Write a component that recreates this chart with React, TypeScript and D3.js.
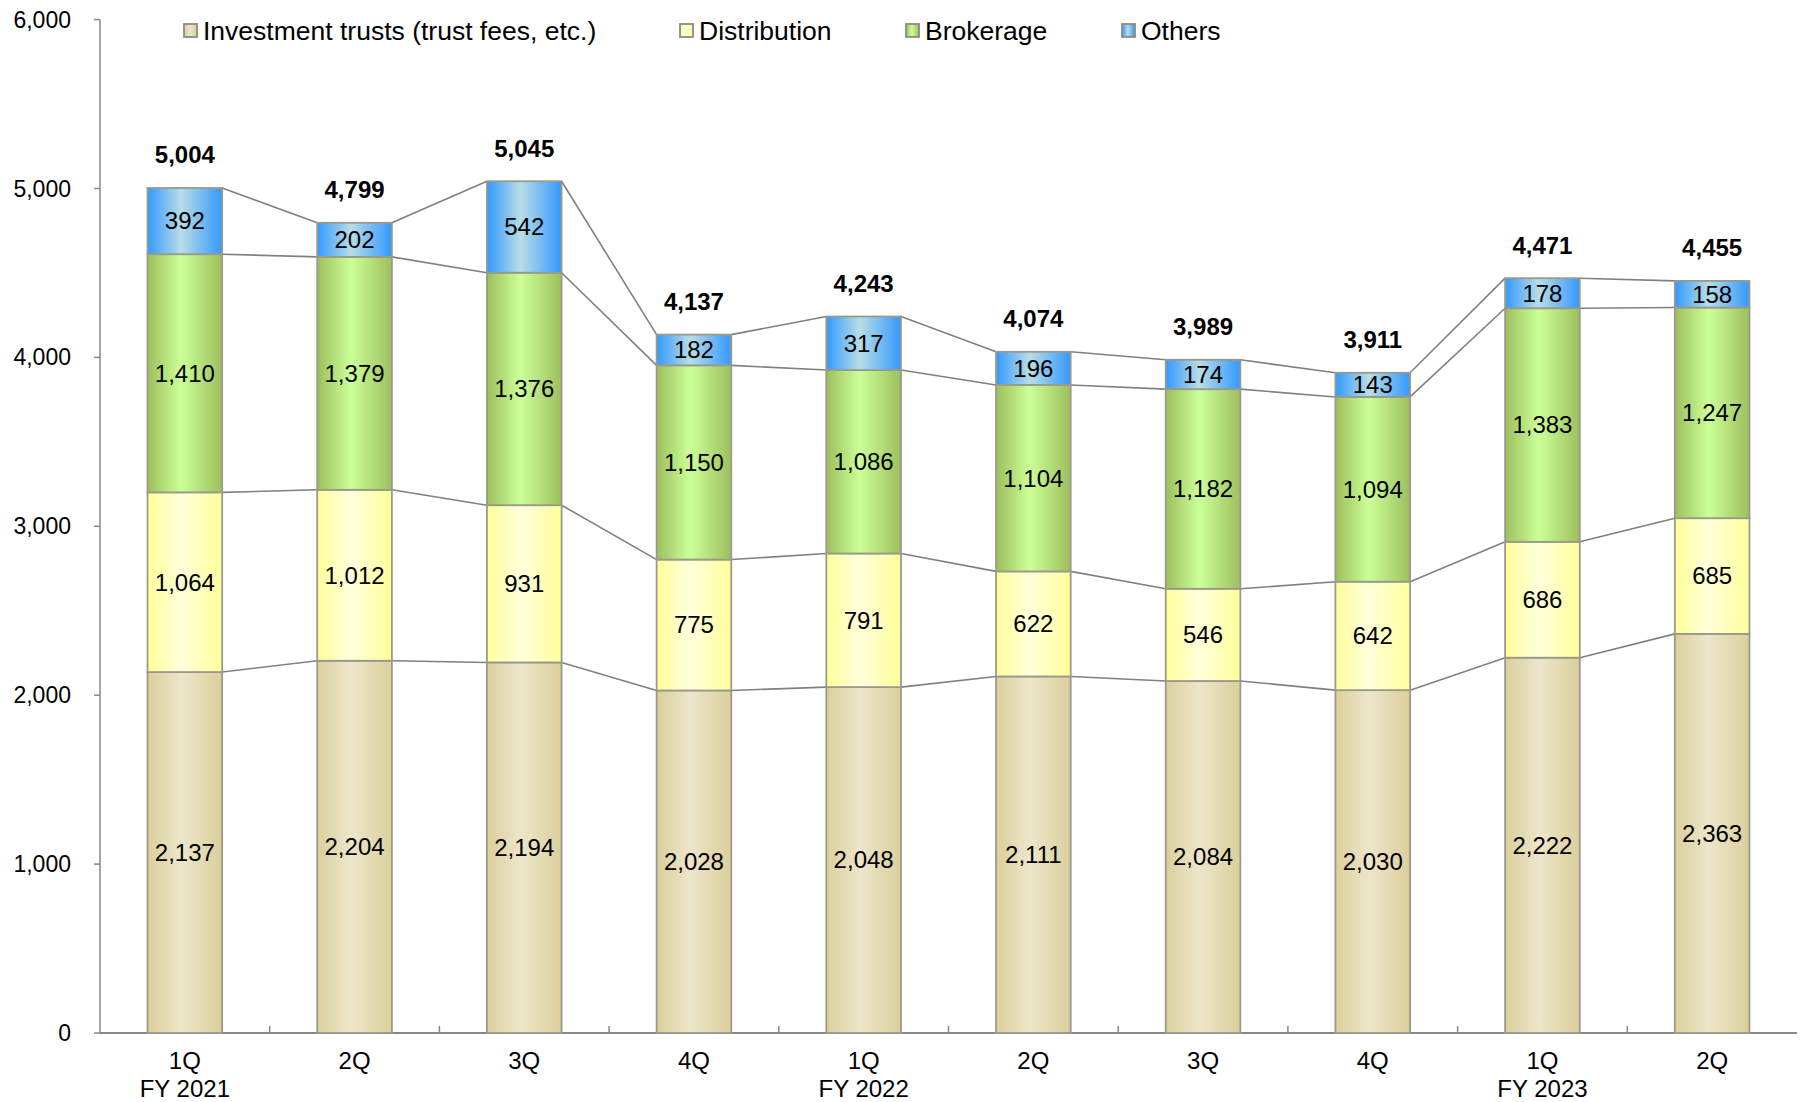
import React from 'react';
import * as d3 from 'd3';

const quarters = ['1Q', '2Q', '3Q', '4Q', '1Q', '2Q', '3Q', '4Q', '1Q', '2Q'];
const fiscalYears = ['FY 2021', '', '', '', 'FY 2022', '', '', '', 'FY 2023', ''];
const investmentTrusts = [2137, 2204, 2194, 2028, 2048, 2111, 2084, 2030, 2222, 2363];
const distribution = [1064, 1012, 931, 775, 791, 622, 546, 642, 686, 685];
const brokerage = [1410, 1379, 1376, 1150, 1086, 1104, 1182, 1094, 1383, 1247];
const others = [392, 202, 542, 182, 317, 196, 174, 143, 178, 158];
const totals = [5004, 4799, 5045, 4137, 4243, 4074, 3989, 3911, 4471, 4455];
const seriesNames = ['Investment trusts (trust fees, etc.)', 'Distribution', 'Brokerage', 'Others'];
const yTicks = [0, 1000, 2000, 3000, 4000, 5000, 6000];

const seriesData = [investmentTrusts, distribution, brokerage, others];
const gradients = [
  { id: 'g-inv', edge: '#dccf9c', mid: '#ece6ca' },
  { id: 'g-dist', edge: '#ffff99', mid: '#ffffdc' },
  { id: 'g-brok', edge: '#9dbf5c', mid: '#ccff99' },
  { id: 'g-oth', edge: '#3399ff', mid: '#b8dde6' },
];
const legendX = [184, 680, 906, 1122];

const FONT = '"Liberation Sans", Arial, Helvetica, sans-serif';
const fmt = d3.format(',');

export default function App() {
  const W = 1806, H = 1102;
  const left = 100, right = 1797, top = 19.6, bottom = 1033;
  const idx = quarters.map((_, i) => i);
  const x = d3.scaleBand<number>().domain(idx).range([left, right]).paddingInner(0.56).paddingOuter(0.28);
  const y = d3.scaleLinear().domain([0, 6000]).range([bottom, top]);
  const bw = x.bandwidth();
  const step = x.step();

  const stack = d3.stack<number>().keys(['0', '1', '2', '3']).value((i, k) => seriesData[+k][i]);
  const stacked = stack(idx);

  const stroke = '#9a9a8c';
  const lineColor = '#808080';

  return (
    <svg width={W} height={H} style={{ position: 'absolute', left: 0, top: 0, background: '#fff' }} fontFamily={FONT}>
      <defs>
        {gradients.map(g => (
          <linearGradient key={g.id} id={g.id} x1="0" x2="1" y1="0" y2="0">
            <stop offset="0" stopColor={g.edge} />
            <stop offset="0.45" stopColor={g.mid} />
            <stop offset="1" stopColor={g.edge} />
          </linearGradient>
        ))}
      </defs>

      {/* axes */}
      <line x1={left} x2={left} y1={top} y2={bottom} stroke="#888" strokeWidth={1.5} />
      <line x1={left} x2={right} y1={bottom} y2={bottom} stroke="#888" strokeWidth={2} />
      {yTicks.map(t => (
        <g key={t}>
          <line x1={left - 6} x2={left} y1={y(t)} y2={y(t)} stroke="#888" strokeWidth={1.5} />
          <text x={left - 29} y={y(t)} dy="0.35em" textAnchor="end" fontSize={23} fill="#000">{fmt(t)}</text>
        </g>
      ))}
      {idx.slice(1).map(i => (
        <line key={i} x1={x(i)! - (step - bw) / 2} x2={x(i)! - (step - bw) / 2} y1={bottom} y2={bottom - 7} stroke="#888" strokeWidth={1.5} />
      ))}
      {idx.map(i => (
        <g key={i}>
          <text x={x(i)! + bw / 2} y={1061} dy="0.35em" textAnchor="middle" fontSize={24} fill="#000">{quarters[i]}</text>
          {fiscalYears[i] && (
            <text x={x(i)! + bw / 2} y={1089} dy="0.35em" textAnchor="middle" fontSize={24} fill="#000">{fiscalYears[i]}</text>
          )}
        </g>
      ))}

      {/* series lines */}
      {stacked.map((s, k) => (
        <g key={'sl' + k}>
          {idx.slice(0, -1).map(i => (
            <line key={i} x1={x(i)! + bw} y1={y(s[i][1])} x2={x(i + 1)!} y2={y(s[i + 1][1])} stroke={lineColor} strokeWidth={1.6} />
          ))}
        </g>
      ))}

      {/* bars */}
      {stacked.map((s, k) => (
        <g key={'b' + k}>
          {s.map((d, i) => (
            <g key={i}>
              <rect x={x(i)!} y={y(d[1])} width={bw} height={y(d[0]) - y(d[1])} fill={`url(#${gradients[k].id})`} stroke={stroke} strokeWidth={1.8} />
              <text x={x(i)! + bw / 2} y={(y(d[0]) + y(d[1])) / 2} dy="0.35em" textAnchor="middle" fontSize={24} fill="#000">{fmt(seriesData[k][i])}</text>
            </g>
          ))}
        </g>
      ))}

      {/* totals */}
      {idx.map(i => (
        <text key={'t' + i} x={x(i)! + bw / 2} y={y(stacked[3][i][1]) - 33} dy="0.35em" textAnchor="middle" fontSize={24} fontWeight="bold" fill="#000">{fmt(totals[i])}</text>
      ))}

      {/* legend */}
      {seriesNames.map((n, k) => (
        <g key={'l' + k}>
          <rect x={legendX[k]} y={24} width={13} height={13} fill={`url(#${gradients[k].id})`} stroke="#8c8c80" strokeWidth={1.8} />
          <text x={legendX[k] + 19} y={31} dy="0.35em" fontSize={26.5} fill="#000">{n}</text>
        </g>
      ))}
    </svg>
  );
}
